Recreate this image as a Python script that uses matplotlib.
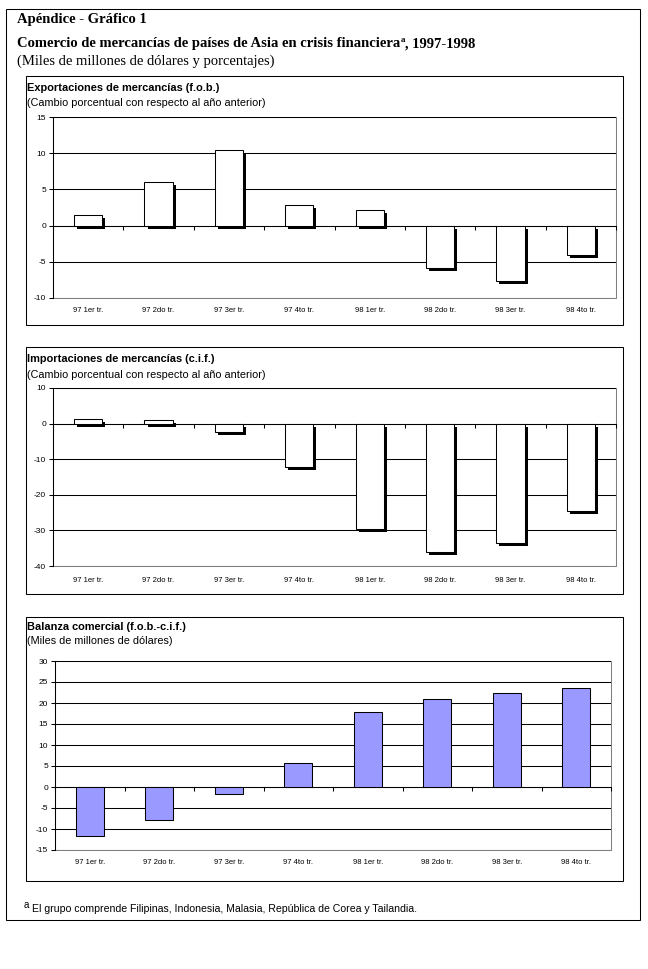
import matplotlib
matplotlib.use('Agg')
import matplotlib.pyplot as plt
from matplotlib.patches import Rectangle
from matplotlib import patheffects as pe
from matplotlib.transforms import blended_transform_factory
import numpy as np

plt.rcParams['axes.unicode_minus'] = False

W, H = 648, 969
fig = plt.figure(figsize=(6.48, 9.69), dpi=100)
fig.patch.set_facecolor('white')

categories = ["97 1er tr.", "97 2do tr.", "97 3er tr.", "97 4to tr.",
              "98 1er tr.", "98 2do tr.", "98 3er tr.", "98 4to tr."]
exports = [1.5, 6.0, 10.4, 2.8, 2.2, -5.9, -7.6, -4.0]
imports = [1.3, 1.0, -2.3, -12.1, -29.6, -36.0, -33.6, -24.6]
balance = [-11.6, -7.8, -1.7, 5.7, 17.8, 20.9, 22.3, 23.6]

SERIF = 'Liberation Serif'
SANS = 'Liberation Sans'
LW = 0.75


def fx(x):
    return x / W


def fy(y):
    return 1 - y / H


def frame(x0, y0, x1, y1, color='k', lw=LW):
    fig.add_artist(Rectangle((fx(x0), fy(y1)), fx(x1) - fx(x0), fy(y0) - fy(y1),
                             transform=fig.transFigure, fill=False, ec=color, lw=lw))


def panel(px0, py0, px1, py1, values, ylim, yticks, fill, shadow, label_y):
    ax = fig.add_axes([fx(px0), fy(py1), fx(px1) - fx(px0), fy(py0) - fy(py1)])
    ax.set_facecolor('none')
    x = np.arange(len(values))
    bars = ax.bar(x, values, width=0.4, color=fill, edgecolor='k', linewidth=LW, zorder=3)
    if shadow:
        for b in bars:
            b.set_path_effects([pe.SimplePatchShadow(offset=(2.2, -2.2), shadow_rgbFace='k', alpha=1.0),
                                pe.Normal()])
    ax.set_xlim(-0.5, len(values) - 0.5)
    ax.set_ylim(*ylim)
    ax.set_yticks(yticks)
    ax.yaxis.grid(True, color='k', lw=LW)
    ax.set_axisbelow(True)
    ax.spines['bottom'].set_position(('data', 0))
    ax.spines['bottom'].set_linewidth(LW)
    ax.spines['left'].set_linewidth(LW)
    ax.spines[['top', 'right']].set_visible(False)
    ax.add_patch(Rectangle((0, 0), 1, 1, transform=ax.transAxes, fill=False,
                           ec='#808080', lw=LW, clip_on=False, zorder=0.5))
    ax.set_xticks(np.arange(len(values) + 1) - 0.5)
    ax.set_xticklabels([])
    ax.tick_params(axis='x', direction='out', length=3, width=LW)
    ax.tick_params(axis='y', direction='out', length=3, width=LW, labelsize=6, pad=2)
    for lab in ax.get_yticklabels():
        lab.set_family(SANS)
    trans = blended_transform_factory(ax.transData, fig.transFigure)
    for i, c in enumerate(categories):
        ax.text(i, fy(label_y), c, transform=trans, ha='center', va='center',
                fontsize=5.5, family=SANS)
    return ax


# outer frame and panel frames
frame(6, 9, 640, 920)
frame(26, 76, 623, 325)
frame(26, 347, 623, 594)
frame(26, 617, 623, 881)

# header texts
fig.text(fx(17), fy(19), "Apéndice - Gráfico 1", family=SERIF, weight='bold',
         fontsize=10.5, va='center', ha='left')
t1 = fig.text(fx(17), fy(44), "Comercio de mercancías de países de Asia en crisis financiera",
              family=SERIF, weight='bold', fontsize=10.5, va='center', ha='left')
fig.canvas.draw()
r = fig.canvas.get_renderer()
bb = t1.get_window_extent(r)
x_end = bb.x1 / W
ta = fig.text(x_end + 0.5 / W, fy(40), "a", family=SERIF, weight='bold', fontsize=6.5,
              va='center', ha='left')
bb2 = ta.get_window_extent(r)
fig.text(bb2.x1 / W, fy(44), ", 1997-1998", family=SERIF, weight='bold', fontsize=10.5,
         va='center', ha='left')
fig.text(fx(17), fy(61), "(Miles de millones de dólares y porcentajes)", family=SERIF,
         fontsize=10.5, va='center', ha='left')

# panel titles
fig.text(fx(27), fy(88), "Exportaciones de mercancías (f.o.b.)", family=SANS, weight='bold',
         fontsize=7.95, va='center', ha='left')
fig.text(fx(27), fy(103), "(Cambio porcentual con respecto al año anterior)", family=SANS,
         fontsize=7.85, va='center', ha='left')
fig.text(fx(27), fy(359), "Importaciones de mercancías (c.i.f.)", family=SANS, weight='bold',
         fontsize=7.95, va='center', ha='left')
fig.text(fx(27), fy(375), "(Cambio porcentual con respecto al año anterior)", family=SANS,
         fontsize=7.85, va='center', ha='left')
fig.text(fx(27), fy(627), "Balanza comercial (f.o.b.-c.i.f.)", family=SANS, weight='bold',
         fontsize=7.95, va='center', ha='left')
fig.text(fx(27), fy(641), "(Miles de millones de dólares)", family=SANS,
         fontsize=7.85, va='center', ha='left')

panel(53, 117, 616, 298, exports, (-10, 15), [-10, -5, 0, 5, 10, 15], 'white', True, 311)
panel(53, 388, 616, 566, imports, (-40, 10), [-40, -30, -20, -10, 0, 10], 'white', True, 580)
panel(55, 661, 611, 850, balance, (-15, 30), [-15, -10, -5, 0, 5, 10, 15, 20, 25, 30],
      '#9999FF', False, 862)

# footnote
fig.text(fx(24), fy(905), "a", family=SANS, fontsize=7, va='center', ha='left')
fig.text(fx(32), fy(909), "El grupo comprende Filipinas, Indonesia, Malasia, República de Corea y Tailandia.",
         family=SANS, fontsize=7.6, va='center', ha='left')

fig.savefig('out.png', dpi=100, facecolor='white')
